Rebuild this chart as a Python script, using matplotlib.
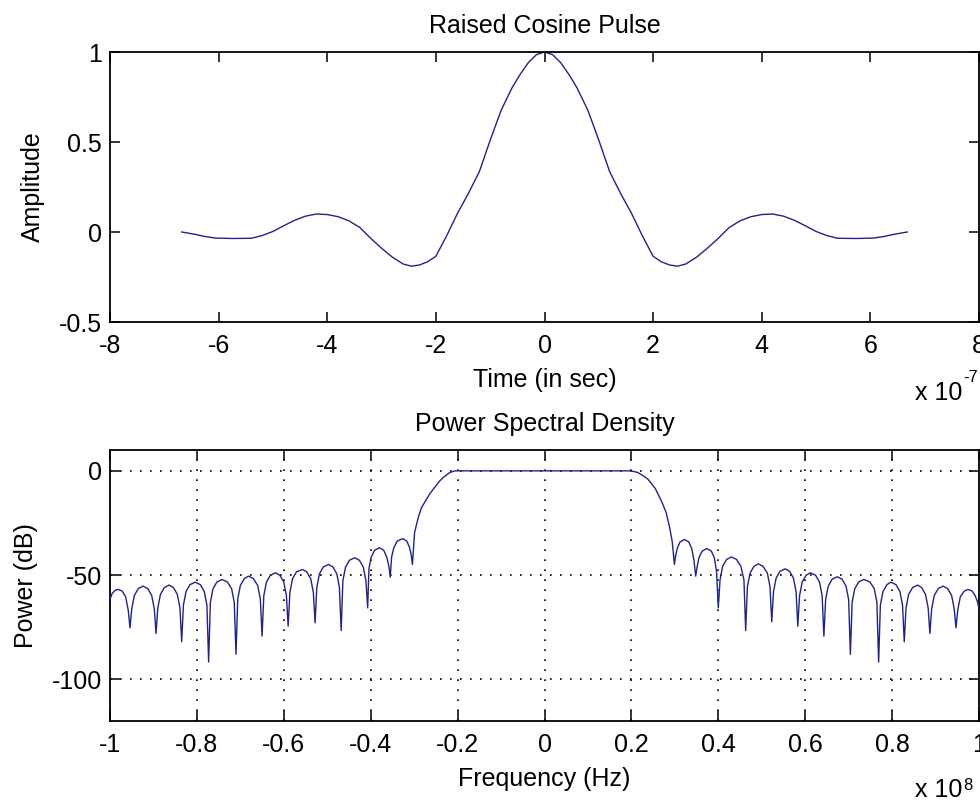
import numpy as np
import matplotlib
matplotlib.use('Agg')
import matplotlib.pyplot as plt

plt.rcParams['font.family'] = ['Liberation Sans', 'DejaVu Sans']

# ---------------- data ----------------
# Raised cosine pulse: time in units of 1e-7 s
time_e7 = [-6.68, -6.45, -6.25, -6.05, -5.75, -5.40, -5.20, -5.00, -4.80, -4.60,
           -4.40, -4.20, -4.00, -3.80, -3.60, -3.40, -3.20, -3.00, -2.80, -2.60,
           -2.45, -2.30, -2.15, -2.00, -1.80, -1.60, -1.40, -1.20, -1.00, -0.80,
           -0.60, -0.45, -0.30, -0.15, 0.00,
           0.15, 0.30, 0.45, 0.60, 0.80, 1.00, 1.20, 1.40, 1.60, 1.80,
           2.00, 2.15, 2.30, 2.45, 2.60, 2.80, 3.00, 3.20, 3.40, 3.60,
           3.80, 4.00, 4.20, 4.40, 4.60, 4.80, 5.00, 5.20, 5.40, 5.75,
           6.05, 6.25, 6.45, 6.68]
amplitude = [0.0, -0.012, -0.025, -0.034, -0.036, -0.035, -0.02, 0.003, 0.035, 0.065,
             0.088, 0.10, 0.097, 0.085, 0.062, 0.025, -0.035, -0.09, -0.14, -0.178,
             -0.19, -0.183, -0.165, -0.135, -0.02, 0.105, 0.215, 0.335, 0.51, 0.675,
             0.80, 0.875, 0.94, 0.985, 1.0,
             0.985, 0.94, 0.875, 0.80, 0.675, 0.51, 0.335, 0.215, 0.105, -0.02,
             -0.135, -0.165, -0.183, -0.19, -0.178, -0.14, -0.09, -0.035, 0.025, 0.062,
             0.085, 0.097, 0.10, 0.088, 0.065, 0.035, 0.003, -0.02, -0.035, -0.036,
             -0.034, -0.025, -0.012, 0.0]

# Power spectral density: frequency in units of 1e8 Hz, power in dB
freq_e8 = [
    -1.000, -0.995, -0.988, -0.981, -0.972, -0.964, -0.958, -0.954,
    -0.950, -0.944, -0.935, -0.924, -0.913, -0.904, -0.898, -0.894,
    -0.890, -0.884, -0.875, -0.864, -0.854, -0.845, -0.839, -0.835,
    -0.831, -0.825, -0.816, -0.804, -0.792, -0.783, -0.777, -0.773,
    -0.769, -0.763, -0.754, -0.742, -0.730, -0.720, -0.714, -0.710,
    -0.706, -0.700, -0.691, -0.681, -0.670, -0.660, -0.654, -0.650,
    -0.646, -0.640, -0.631, -0.619, -0.609, -0.600, -0.594, -0.590,
    -0.586, -0.580, -0.571, -0.557, -0.547, -0.538, -0.532, -0.528,
    -0.524, -0.518, -0.509, -0.497, -0.487, -0.478, -0.472, -0.468,
    -0.464, -0.458, -0.449, -0.437, -0.426, -0.417, -0.411, -0.407,
    -0.404, -0.399, -0.391, -0.380, -0.370, -0.363, -0.358, -0.355,
    -0.352, -0.347, -0.339, -0.326, -0.317, -0.311, -0.307, -0.304,
    -0.299, -0.290, -0.283, -0.264, -0.256, -0.241, -0.233, -0.218, -0.206,
    0.000,
    0.199, 0.215, 0.228, 0.238, 0.255, 0.269, 0.280, 0.288, 0.294, 0.299,
    0.302, 0.306, 0.312, 0.322, 0.332, 0.339, 0.344, 0.348,
    0.351, 0.356, 0.363, 0.373, 0.384, 0.391, 0.396, 0.400,
    0.404, 0.410, 0.419, 0.430, 0.442, 0.452, 0.459, 0.463,
    0.467, 0.473, 0.482, 0.492, 0.503, 0.513, 0.519, 0.523,
    0.527, 0.533, 0.542, 0.554, 0.564, 0.573, 0.579, 0.583,
    0.587, 0.593, 0.602, 0.612, 0.624, 0.633, 0.639, 0.643,
    0.647, 0.653, 0.662, 0.674, 0.685, 0.694, 0.700, 0.704,
    0.708, 0.714, 0.723, 0.735, 0.749, 0.759, 0.765, 0.769,
    0.773, 0.779, 0.788, 0.797, 0.809, 0.818, 0.824, 0.828,
    0.832, 0.838, 0.847, 0.859, 0.868, 0.877, 0.883, 0.887,
    0.891, 0.897, 0.906, 0.917, 0.928, 0.937, 0.943, 0.947,
    0.951, 0.957, 0.966, 0.975, 0.984, 0.991, 0.996, 1.000]
power_db = [
    -61.7, -58.8, -57.3, -56.9, -57.7, -60.4, -66.9, -75.3,
    -66.3, -59.8, -56.5, -55.3, -56.5, -59.8, -66.3, -78.0,
    -65.8, -59.3, -56.0, -54.8, -56.0, -59.3, -65.8, -82.0,
    -64.4, -57.9, -54.6, -53.4, -54.6, -57.9, -64.4, -91.7,
    -63.1, -56.6, -53.3, -52.1, -53.3, -56.6, -63.1, -88.0,
    -61.5, -55.0, -51.7, -50.5, -51.7, -55.0, -61.5, -79.3,
    -59.9, -53.4, -50.1, -48.9, -50.1, -53.4, -59.9, -74.5,
    -58.3, -51.8, -48.5, -47.3, -48.5, -51.8, -58.3, -72.9,
    -55.9, -49.4, -46.1, -44.9, -46.1, -49.4, -55.9, -76.6,
    -52.7, -46.2, -42.9, -41.7, -42.9, -46.2, -52.7, -65.7,
    -46.9, -41.4, -38.1, -36.9, -38.1, -41.4, -46.0, -51.0,
    -41.5, -37.0, -33.7, -32.5, -33.7, -36.5, -40.0, -44.9,
    -29.5, -22.0, -17.6, -11.0, -8.8, -4.8, -3.2, -0.8, 0.0,
    0.0,
    0.0, -0.8, -2.5, -4.0, -8.5, -14.4, -20.0, -27.2, -34.0, -44.9,
    -40.4, -36.9, -34.1, -32.9, -34.1, -37.4, -43.0, -50.5,
    -46.3, -41.3, -38.5, -37.3, -38.5, -41.8, -48.3, -65.7,
    -52.3, -45.8, -42.5, -41.3, -42.5, -45.8, -52.3, -76.6,
    -55.6, -49.1, -45.8, -44.6, -45.8, -49.1, -55.6, -72.4,
    -58.0, -51.5, -48.2, -47.0, -48.2, -51.5, -58.0, -74.5,
    -59.9, -53.4, -50.1, -48.9, -50.1, -53.4, -59.9, -79.3,
    -61.8, -55.3, -52.0, -50.8, -52.0, -55.3, -61.8, -88.0,
    -63.1, -56.6, -53.3, -52.1, -53.3, -56.6, -63.1, -91.7,
    -64.4, -57.9, -54.6, -53.4, -54.6, -57.9, -64.4, -82.0,
    -65.8, -59.3, -56.0, -54.8, -56.0, -59.3, -65.8, -78.0,
    -66.3, -59.8, -56.5, -55.3, -56.5, -59.8, -66.3, -75.3,
    -66.9, -60.4, -57.7, -56.9, -57.6, -59.8, -62.5, -66.0]

top_xticks = [-8, -6, -4, -2, 0, 2, 4, 6, 8]
top_xticklabels = ['-8', '-6', '-4', '-2', '0', '2', '4', '6', '8']
top_yticks = [-0.5, 0, 0.5, 1]
top_yticklabels = ['-0.5', '0', '0.5', '1']
bot_xticks = [-1, -0.8, -0.6, -0.4, -0.2, 0, 0.2, 0.4, 0.6, 0.8, 1]
bot_xticklabels = ['-1', '-0.8', '-0.6', '-0.4', '-0.2', '0', '0.2', '0.4', '0.6', '0.8', '1']
bot_yticks = [-100, -50, 0]
bot_yticklabels = ['-100', '-50', '0']

# ---------------- layout ----------------
W, H = 980, 801
fig = plt.figure(figsize=(W / 100, H / 100), dpi=100)
fig.patch.set_facecolor('white')


def px_rect(l, t, r, b):
    return [l / W, 1 - b / H, (r - l) / W, (b - t) / H]


ax1 = fig.add_axes(px_rect(110, 52, 979, 322))
ax2 = fig.add_axes(px_rect(110, 450, 979, 721))

LINE_COLOR = '#232384'
FS = 18

for ax in (ax1, ax2):
    ax.tick_params(direction='in', length=7, width=1.1, top=True, right=True,
                   labelsize=FS, colors='black')
    ax.tick_params(axis='x', pad=8.5)
    ax.tick_params(axis='y', pad=6)
    for sp in ax.spines.values():
        sp.set_linewidth(1.3)
        sp.set_color('black')

# top plot
ax1.plot(time_e7, amplitude, color=LINE_COLOR, linewidth=1.0)
ax1.set_xlim(-8, 8)
ax1.set_ylim(-0.5, 1)
ax1.set_xticks(top_xticks)
ax1.set_xticklabels(top_xticklabels)
ax1.set_yticks(top_yticks)
ax1.set_yticklabels(top_yticklabels)
ax1.set_title('Raised Cosine Pulse', fontsize=FS, pad=14)
ax1.set_xlabel('Time (in sec)', fontsize=FS, labelpad=7)
ax1.set_ylabel('Amplitude', fontsize=FS, labelpad=10)

# bottom plot
ax2.plot(freq_e8, power_db, color=LINE_COLOR, linewidth=1.0, zorder=3)
ax2.set_xlim(-1, 1)
ax2.set_ylim(-120, 10)
ax2.set_xticks(bot_xticks)
ax2.set_xticklabels(bot_xticklabels)
ax2.set_yticks(bot_yticks)
ax2.set_yticklabels(bot_yticklabels)
ax2.grid(True, linestyle=(0, (1, 5)), color='black', linewidth=1.2)
ax2.set_title('Power Spectral Density', fontsize=FS, pad=14)
ax2.set_xlabel('Frequency (Hz)', fontsize=FS, labelpad=7)
ax2.set_ylabel('Power (dB)', fontsize=FS, labelpad=10)

# exponent annotations
fig.text(962 / W, 1 - 400 / H, 'x 10', fontsize=FS, ha='right', va='baseline')
fig.text(963 / W, 1 - 382 / H, '-7', fontsize=12, ha='left', va='baseline')
fig.text(962 / W, 1 - 797 / H, 'x 10', fontsize=FS, ha='right', va='baseline')
fig.text(963 / W, 1 - 790 / H, '8', fontsize=12, ha='left', va='baseline')

fig.savefig('out.png', dpi=100, facecolor='white')
